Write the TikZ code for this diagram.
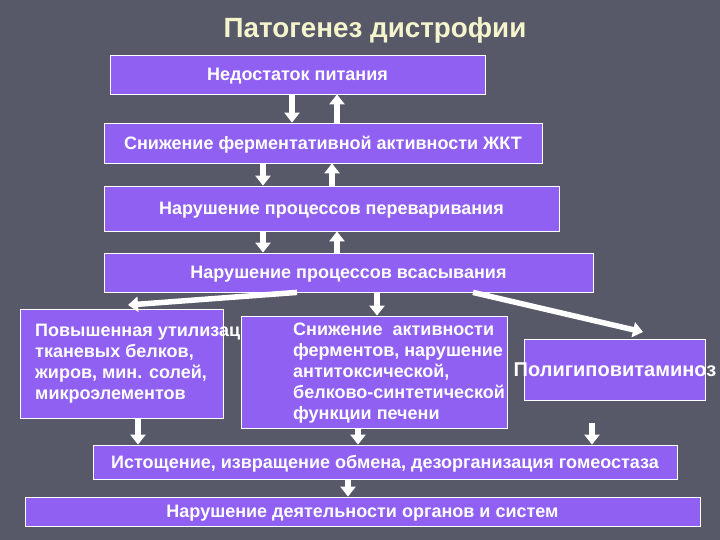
\documentclass[tikz,border=0pt]{standalone}
\usepackage{fontspec}
\setmainfont{Liberation Sans}
\usetikzlibrary{arrows.meta}
\definecolor{slidebg}{RGB}{88,89,104}
\definecolor{boxviolet}{RGB}{143,96,242}
\definecolor{titleyellow}{RGB}{245,245,205}
\tikzset{
  box/.style={draw=white, line width=0.8pt, fill=boxviolet, text=white, inner sep=0pt},
  boxtext/.style={text=white, font=\bfseries\fontsize{18}{21}\selectfont, inner sep=0pt, text depth=0pt},
  blockarrow/.style={draw=white, line width=5.5pt, -{Triangle[width=15pt,length=10pt]}}
}
\begin{document}
\begin{tikzpicture}[x=1pt, y=-1pt]
  \fill[slidebg] (0,0) rectangle (720,540);
  \useasboundingbox (0,0) rectangle (720,540);
  \node[text=titleyellow, font=\bfseries\fontsize{27.8}{32}\selectfont] (title) at (375,30) {Патогенез дистрофии};
  \node[box, minimum width=375pt, minimum height=39pt, boxtext] (nedostatok) at (297.5,74.5) {Недостаток питания};
  \node[box, minimum width=438pt, minimum height=40pt, boxtext] (snizh) at (323,143) {Снижение ферментативной активности ЖКТ};
  \node[box, minimum width=455pt, minimum height=45pt, boxtext] (perevar) at (331.5,208.5) {Нарушение процессов переваривания};
  \node[box, minimum width=489pt, minimum height=39pt, boxtext] (vsas) at (348.5,272.5) {Нарушение процессов всасывания};
  \node[box, minimum width=203pt, minimum height=109pt] (utiliz) at (121.5,363.5) {};
  \node[boxtext, anchor=north west, align=left] (utiliztext) at (35,324) {Повышенная утилизации\\тканевых белков,\\жиров, мин. солей,\\микроэлементов};
  \node[box, minimum width=266pt, minimum height=112pt] (pechen) at (374,372) {};
  \node[boxtext, anchor=north west, align=left] (pechentext) at (293,323) {Снижение \ активности\\ферментов, нарушение\\антитоксической,\\белково-синтетической\\функции печени};
  \node[box, minimum width=181pt, minimum height=61pt] (poligipo) at (614.5,369.5) {};
  \node[boxtext, font=\bfseries\fontsize{20}{24}\selectfont] (poligipotext) at (615,370) {Полигиповитаминоз};
  \node[box, minimum width=584pt, minimum height=34pt, boxtext] (istosh) at (385,462) {Истощение, извращение обмена, дезорганизация гомеостаза};
  \node[box, minimum width=675pt, minimum height=29pt, boxtext] (narush) at (362.5,511.5) {Нарушение деятельности органов и систем};
  \coordinate (leftend) at (128,305);
  \coordinate (rightend) at (643,332);
  \coordinate (vitstart) at (592,423);
  \draw[blockarrow] (292,0 |- nedostatok.south) -- (292,0 |- snizh.north);
  \draw[blockarrow] (337,0 |- snizh.north) -- (337,0 |- nedostatok.south);
  \draw[blockarrow] (263,0 |- snizh.south) -- (263,0 |- perevar.north);
  \draw[blockarrow] (332,0 |- perevar.north) -- (332,0 |- snizh.south);
  \draw[blockarrow] (263,0 |- perevar.south) -- (263,0 |- vsas.north);
  \draw[blockarrow] (337,0 |- vsas.north) -- (337,0 |- perevar.south);
  \draw[blockarrow] (297,0 |- vsas.south) -- (leftend);
  \draw[blockarrow] (377,0 |- vsas.south) -- (377,0 |- pechen.north);
  \draw[blockarrow] (473,0 |- vsas.south) -- (rightend);
  \draw[blockarrow] (138,0 |- utiliz.south) -- (138,0 |- istosh.north);
  \draw[blockarrow] (358,0 |- pechen.south) -- (358,0 |- istosh.north);
  \draw[blockarrow] (vitstart) -- (592,0 |- istosh.north);
  \draw[blockarrow] (348,0 |- istosh.south) -- (348,0 |- narush.north);
\end{tikzpicture}
\end{document}
